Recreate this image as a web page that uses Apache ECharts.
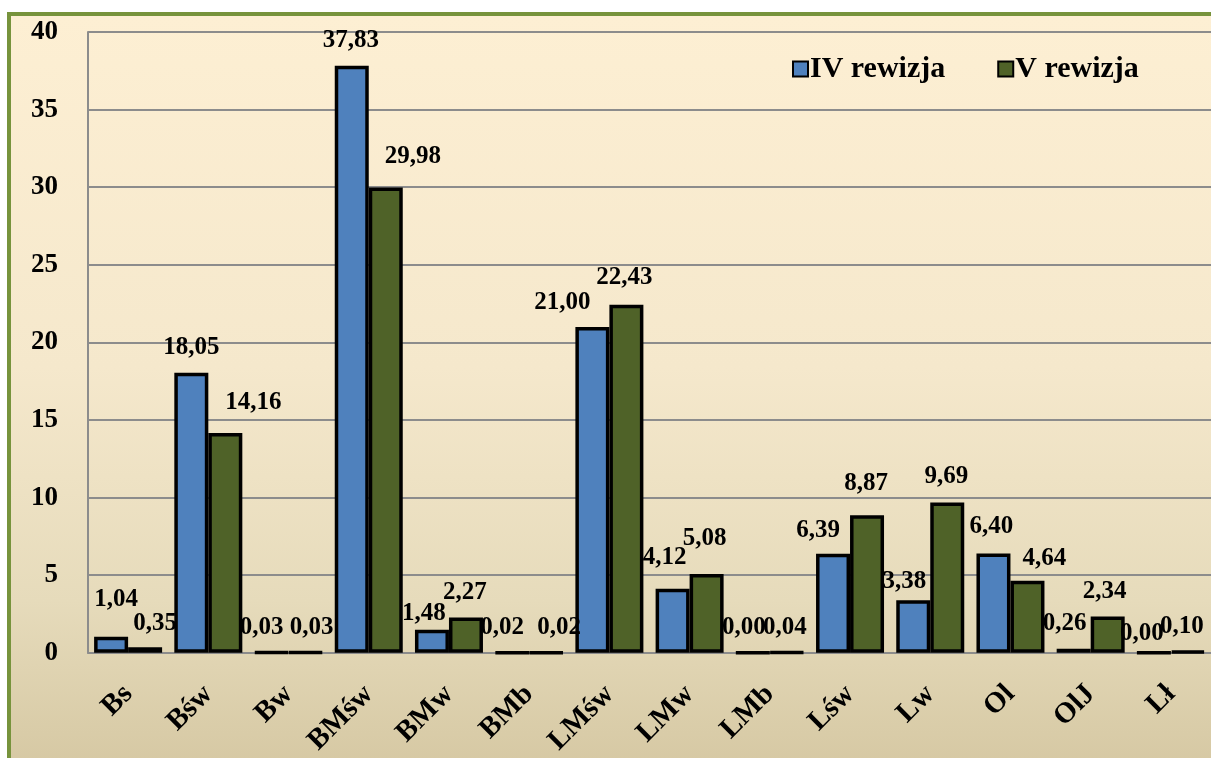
<!DOCTYPE html>
<html>
<head>
<meta charset="utf-8">
<script src="https://cdn.jsdelivr.net/npm/echarts@6/dist/echarts.min.js"></script>
<style>
    html, body { margin: 0; padding: 0; background: #ffffff; overflow: hidden; }
    #frame {
        position: absolute; left: 7px; top: 12px; width: 1230px; height: 780px;
        border: 4px solid #77933c;
        background: linear-gradient(to bottom, #fdefd3 0%, #f5e8cc 45%, #e6dbbb 75%, #d3c59f 100%);
    }
    #chart { position: absolute; left: 0; top: 0; width: 1211px; height: 758px; }
</style>
</head>
<body>
<div id="frame"></div>
<div id="chart"></div>
<script>
const categories = ['Bs', 'Bśw', 'Bw', 'BMśw', 'BMw', 'BMb', 'LMśw', 'LMw', 'LMb', 'Lśw', 'Lw', 'Ol', 'OlJ', 'Lł'];
const rewizjaIV = [1.04, 18.05, 0.03, 37.83, 1.48, 0.02, 21.00, 4.12, 0.00, 6.39, 3.38, 6.40, 0.26, 0.00];
const rewizjaV = [0.35, 14.16, 0.03, 29.98, 2.27, 0.02, 22.43, 5.08, 0.04, 8.87, 9.69, 4.64, 2.34, 0.10];
const seriesNames = ['IV rewizja', 'V rewizja'];

// przesuniecia etykiet (recznie przesuniete w oryginale)
const shiftIV = [[5, -12], [0, 0], [-10, 2], [-1, 0], [-8, 9], [-10, 2], [-30, 1], [-8, -6], [-9, 2], [-15, 2], [-9, 7], [-2, -1], [-9, 0], [-12, 8]];
const shiftV = [[10, 2], [28, -5], [6, 2], [27, -5], [-1, 0], [13, 2], [-2, -2], [-2, -10], [-2, 2], [-1, -6], [-1, 0], [17, 3], [-3, 1], [-6, 2]];

const fontFam = '"Liberation Serif", "DejaVu Serif", serif';

function buildData(values, shifts) {
    return values.map((v, i) => ({
        value: v,
        label: { offset: shifts[i] }
    }));
}

const chart = echarts.init(document.getElementById('chart'));

const labelStyle = {
    show: true,
    position: 'top',
    distance: 13,
    color: '#000',
    fontFamily: fontFam,
    fontWeight: 'bold',
    fontSize: 25,
    formatter: p => p.value.toFixed(2).replace('.', ',')
};

const option = {
    animation: false,
    backgroundColor: 'transparent',
    textStyle: { fontFamily: fontFam },
    legend: {
        data: seriesNames,
        left: 787,
        top: 49,
        icon: 'rect',
        itemWidth: 15,
        itemHeight: 15,
        itemGap: 52,
        textStyle: { fontFamily: fontFam, fontWeight: 'bold', fontSize: 30, color: '#000', padding: [0, 0, 0, -3] }
    },
    grid: { left: 88, top: 32, bottom: 105, width: 1134 },
    xAxis: {
        type: 'category',
        data: categories,
        axisLine: { show: true, lineStyle: { color: '#8c8c8c', width: 2 } },
        axisTick: { show: false },
        axisLabel: {
            rotate: 45,
            margin: 37,
            interval: 0,
            color: '#000',
            fontFamily: fontFam,
            fontWeight: 'bold',
            fontSize: 29
        }
    },
    yAxis: {
        type: 'value',
        min: 0,
        max: 40,
        interval: 5,
        axisLine: { show: true, lineStyle: { color: '#8c8c8c', width: 2 } },
        axisTick: { show: false },
        splitLine: { lineStyle: { color: '#8c8c8c', width: 2 } },
        axisLabel: {
            margin: 30,
            color: '#000',
            fontFamily: fontFam,
            fontWeight: 'bold',
            fontSize: 27
        }
    },
    series: [
        {
            name: seriesNames[0],
            type: 'bar',
            data: buildData(rewizjaIV, shiftIV),
            barWidth: 34,
            barGap: '0%',
            itemStyle: { color: '#4f81bd', borderColor: '#000', borderWidth: 3.5 },
            label: labelStyle
        },
        {
            name: seriesNames[1],
            type: 'bar',
            data: buildData(rewizjaV, shiftV),
            barWidth: 34,
            barGap: '0%',
            itemStyle: { color: '#4f6228', borderColor: '#000', borderWidth: 3.5 },
            label: labelStyle
        }
    ]
};

chart.setOption(option);
</script>
</body>
</html>
